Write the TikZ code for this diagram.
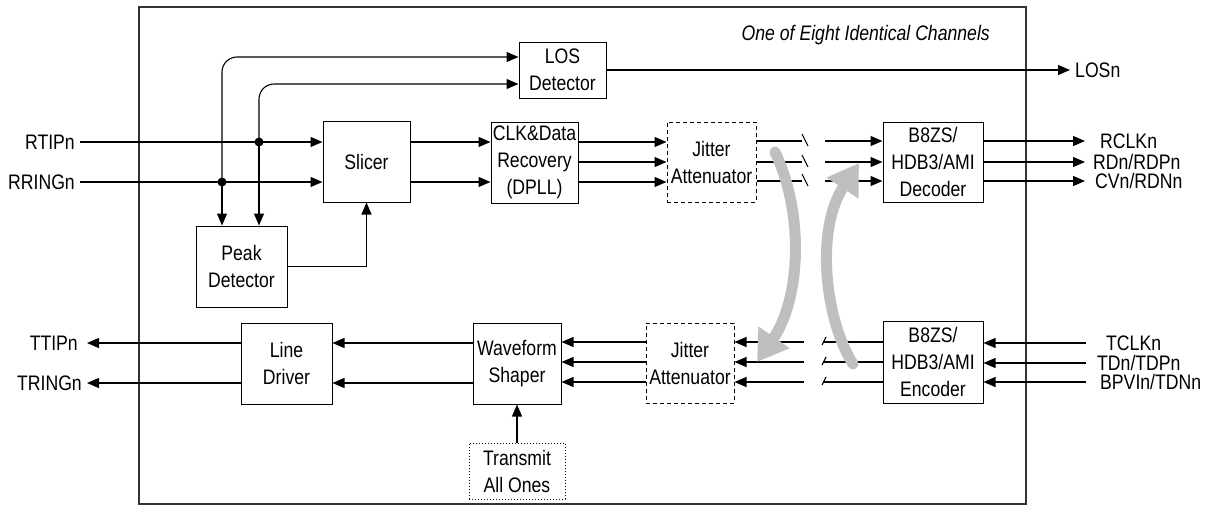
\documentclass[tikz,border=0pt]{standalone}
\usepackage{fontspec}
\setmainfont{Liberation Sans}[FakeStretch=0.84]
\usetikzlibrary{arrows.meta}
\begin{document}
\begin{tikzpicture}[x=1pt,y=-1pt,
  every node/.style={font=\fontsize{21}{27}\selectfont, inner sep=0pt},
  blk/.style={draw, line width=1pt, align=center},
  dblk/.style={blk, dashed, dash pattern=on 4pt off 3pt},
  tblk/.style={blk, dotted, line width=0.8pt},
  sig/.style={line width=1.1pt},
  arr/.style={sig, -{Triangle[length=12pt,width=10pt]}},
  lbl/.style={anchor=west},
  gray arrow/.style={line width=11pt, color=black!25, line cap=round,
    -{Triangle[length=30pt,width=36pt]}}
]
\useasboundingbox (0,0) rectangle (1216,506);
% frame
\draw[line width=1.3pt, black!80] (139,7) rectangle (1026,504);
\node[anchor=east, font=\fontsize{21}{27}\selectfont\itshape] (title) at (990,35) {One of Eight Identical Channels};

% blocks
\node[blk, minimum width=87, minimum height=81] (slicer) at (366.5,161.5) {Slicer};
\node[blk, minimum width=91, minimum height=81] (peak) at (241.5,266.5) {Peak\\Detector};
\node[blk, minimum width=87, minimum height=56] (los) at (562.5,70) {LOS\\Detector};
\node[blk, minimum width=87, minimum height=81] (cdr) at (534.5,162.5) {CLK\&Data\\Recovery\\(DPLL)};
\node[dblk, minimum width=89, minimum height=80] (jt) at (711.5,162) {Jitter\\Attenuator};
\node[blk, minimum width=100, minimum height=80] (dec) at (933,162) {B8ZS/\\HDB3/AMI\\Decoder};
\node[blk, minimum width=91, minimum height=81] (ld) at (286.5,363.5) {Line\\Driver};
\node[blk, minimum width=88, minimum height=81] (ws) at (517,363.5) {Waveform\\Shaper};
\node[dblk, minimum width=88, minimum height=80] (jb) at (690,363) {Jitter\\Attenuator};
\node[blk, minimum width=100, minimum height=82] (enc) at (933,362) {B8ZS/\\HDB3/AMI\\Encoder};
\node[tblk, minimum width=96, minimum height=56] (tao) at (517,471) {Transmit\\All Ones};

% external labels
\node[anchor=east] (rtip) at (75,142) {RTIPn};
\node[anchor=east] (rring) at (75,182) {RRINGn};
\node[anchor=east] (ttip) at (78,343) {TTIPn};
\node[anchor=east] (tring) at (82,383) {TRINGn};
\node[lbl] (losn) at (1075,70) {LOSn};
\node[lbl] (rclk) at (1100,141) {RCLKn};
\node[lbl] (rd) at (1093,162) {RDn/RDPn};
\node[lbl] (cv) at (1095,181) {CVn/RDNn};
\node[lbl] (tclk) at (1106,343) {TCLKn};
\node[lbl] (td) at (1097,363) {TDn/TDPn};
\node[lbl] (bpv) at (1100,382) {BPVIn/TDNn};

% receive front end
\coordinate (ja) at (259,142);
\coordinate (jb2) at (222,182);
\draw[arr] (80,142) -- (slicer.west |- ja);
\draw[arr] (80,182) -- (slicer.west |- jb2);
\fill (ja) circle (4.5pt);
\fill (jb2) circle (4.5pt);
\draw[arr, rounded corners=15pt] (jb2) -- (222,57) -- (los.west |- 0,57);
\draw[arr, rounded corners=15pt] (ja) -- (259,84) -- (los.west |- 0,84);
\draw[arr] (jb2) -- (jb2 |- peak.north);
\draw[arr] (ja) -- (ja |- peak.north);
\draw[arr] (peak.east) -| (slicer.south);
\draw[arr] (los.east) -- (losn.west -| 1070,0);

\draw[arr] (slicer.east |- 0,142) -- (cdr.west |- 0,142);
\draw[arr] (slicer.east |- 0,182) -- (cdr.west |- 0,182);
\foreach \y in {142,162,182} \draw[arr] (cdr.east |- 0,\y) -- (jt.west |- 0,\y);
\foreach \y in {141,162,181} {
  \draw[sig] (jt.east |- 0,\y) -- (802,\y);
  \draw[sig] (802,\y-7) -- (808,\y+5);
  \draw[arr] (825,\y) -- (dec.west |- 0,\y);
  \draw[arr] (dec.east |- 0,\y) -- (1085,\y);
}

% transmit path
\foreach \y in {343,363,382} \draw[arr] (1086,\y) -- (enc.east |- 0,\y);
\foreach \y in {342,362,382} {
  \draw[sig] (enc.west |- 0,\y) -- (823,\y);
  \draw[sig] (822,\y+3) -- (826,\y-5);
  \draw[arr] (804,\y) -- (jb.east |- 0,\y);
  \draw[arr] (jb.west |- 0,\y) -- (ws.east |- 0,\y);
}
\foreach \y in {343,383} {
  \draw[arr] (ws.west |- 0,\y) -- (ld.east |- 0,\y);
  \draw[arr] (ld.west |- 0,\y) -- (87,\y);
}
\draw[arr] (tao.north) -- (ws.south);

% loopback arrows
\draw[gray arrow] (775,152) .. controls (805,215) and (800,300) .. (757,362);
\draw[gray arrow] (853,364) .. controls (825,320) and (815,230) .. (859,163);
\end{tikzpicture}
\end{document}
